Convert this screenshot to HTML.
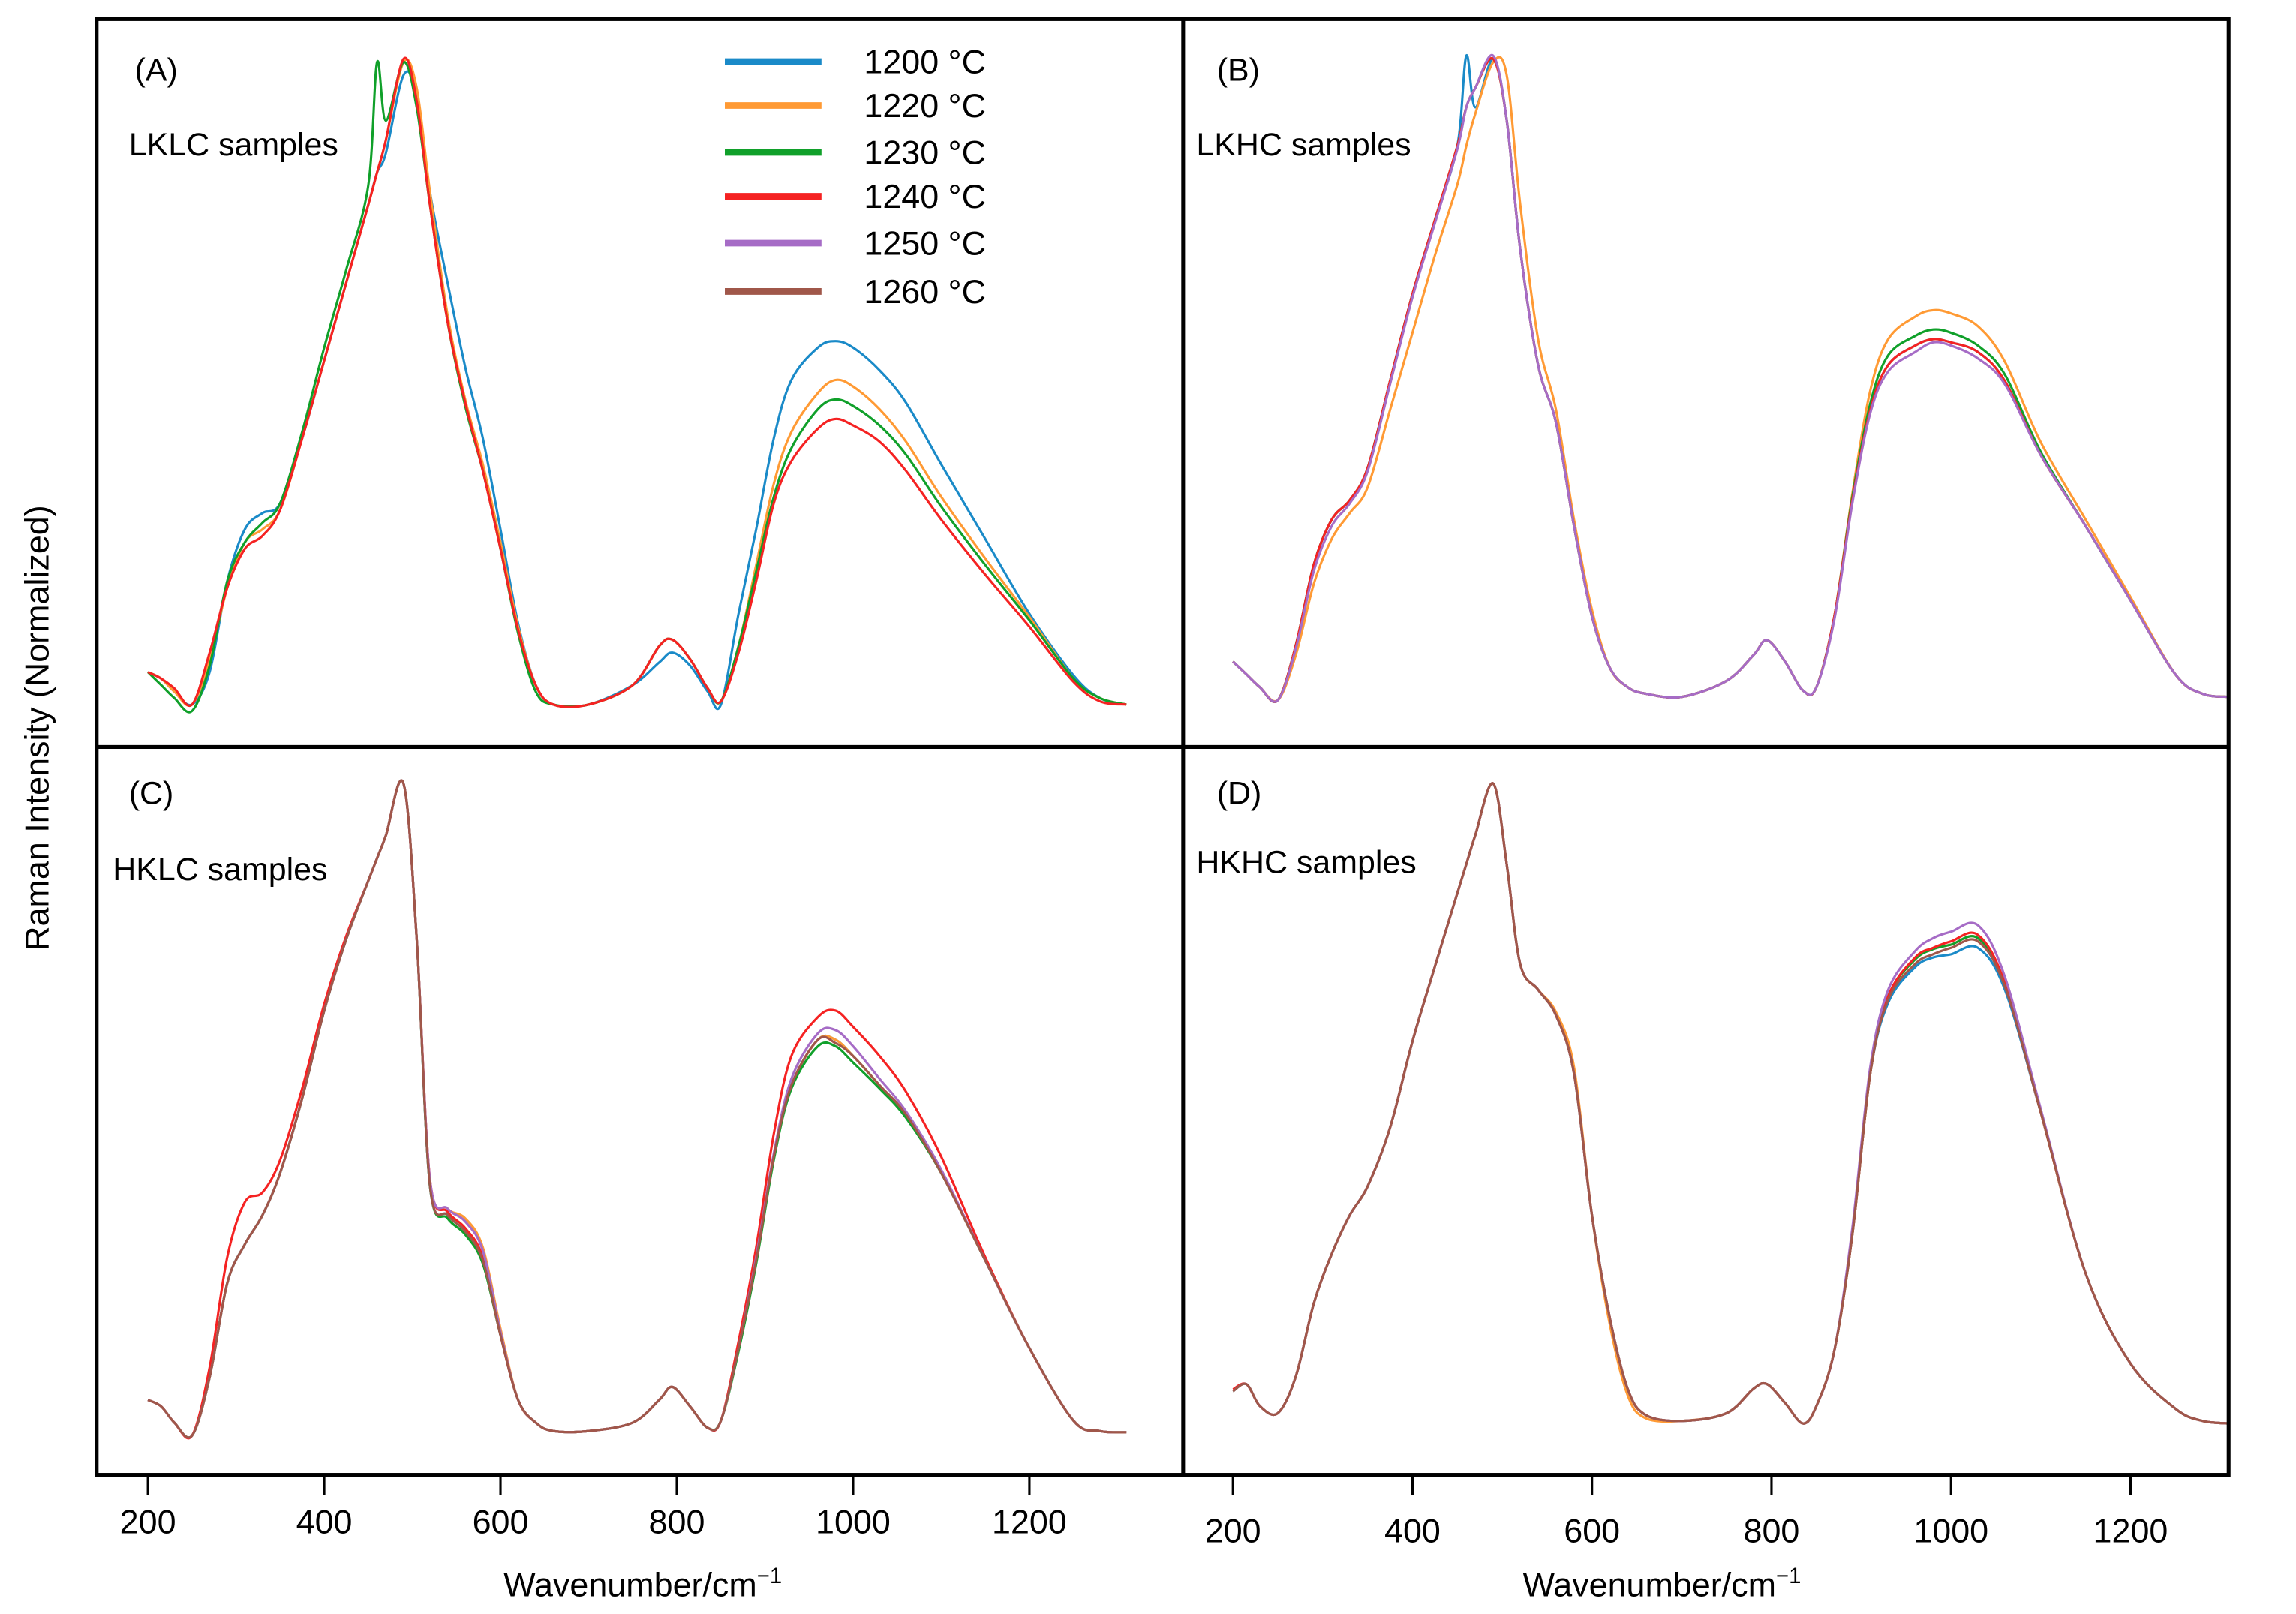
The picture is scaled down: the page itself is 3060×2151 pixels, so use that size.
<!DOCTYPE html>
<html>
<head>
<meta charset="utf-8">
<style>
html,body{margin:0;padding:0;background:#fff;}
svg{display:block;}
text{font-family:"Liberation Sans",sans-serif;fill:#000;}
</style>
</head>
<body>
<svg id="chart" width="3060" height="2151" viewBox="0 0 1568 1102" preserveAspectRatio="none" xmlns="http://www.w3.org/2000/svg">
  <rect x="0" y="0" width="1568" height="1102" fill="#fff"/>
  <g id="curves"></g>
  <g fill="none" stroke="#000" stroke-width="2.6">
    <rect x="66" y="13" width="1456" height="994"/>
    <line x1="66" y1="510" x2="1522" y2="510"/>
    <line x1="808" y1="13" x2="808" y2="1007"/>
  </g>
  <g id="ticks"></g>
  <text x="439" y="1090" font-size="23" text-anchor="middle">Wavenumber/cm<tspan dy="-9" font-size="15">−1</tspan></text>
  <text x="1135" y="1090" font-size="23" text-anchor="middle">Wavenumber/cm<tspan dy="-9" font-size="15">−1</tspan></text>
  <text transform="translate(33,497) rotate(-90)" font-size="23" text-anchor="middle">Raman Intensity (Normalized)</text>
  <text x="92" y="55" font-size="22">(A)</text>
  <text x="88" y="106" font-size="22">LKLC samples</text>
  <text x="831" y="55" font-size="22">(B)</text>
  <text x="817" y="106" font-size="22">LKHC samples</text>
  <text x="88" y="549" font-size="22">(C)</text>
  <text x="77" y="601" font-size="22">HKLC samples</text>
  <text x="831" y="549" font-size="22">(D)</text>
  <text x="817" y="596" font-size="22">HKHC samples</text>
  <g id="legend"></g>
</svg>
<script>
// ---- data ----
const wavenumbers = [200,215,230,250,270,290,310,330,350,375,400,425,450,460,470,490,505,520,540,560,580,600,620,640,660,700,750,780,795,815,835,850,870,890,910,930,960,980,1000,1030,1060,1100,1150,1200,1250,1280,1310];
const xTicks = [200,400,600,800,1000,1200];
const seriesLabels = ["1200 °C","1220 °C","1230 °C","1240 °C","1250 °C","1260 °C"];
const seriesColors = ["#1a8ac8","#ff9a34","#10a02a","#f52222","#a66cc6","#a0574a"];

// Panel A (LKLC)
const a1200 = [5,4,2,0,5,19,27,29.5,31,41,53,65,77,82,85,97,94,79,65,52,41,27,12.5,3,0,0,3,6.5,8,6,2,0,14,27,41,50,55,56,55,51.5,46.5,37,25.5,14,4.5,1,0];
const a1220 = [5,4,2,0,7,18,25,27,30,41,53,65,77,82,87,99,95,79,60,47,37,25,12,3,0,0,3,9,10,7,2.5,0.5,9,21.5,34,42,48,50,49,45.5,40.5,32,22.5,13.5,4,1,0];
const a1230 = [5,3,1,-1,6,19,25,28,31,42,55,67,80,99,90,99,92,77,59,46,36,24,11,2,0,0,3,9,10,7,2.5,0.5,9,20.5,32,39.5,45.5,47,46,43,38.5,30.5,21.5,13,4,1,0];
const a1240 = [5,4,2.5,0,8,18,24,26,30,41,53,65,77,82,87,99.5,93,77,59,46.5,36,24,11.5,3,0,0,3,9,10,7,2.5,0.5,8,19,31,37.5,42.5,44,43,40.5,36,28.5,20,12,3.5,0.5,0];

// Panel B (LKHC)
const b1200 = [6,4,2,0,8.5,21,28,31,36,49.5,63,74.5,86,100,92,99.5,90,70,52,43,27,13,5,2,1,0.5,3,7,9.3,6,1.5,2,13,31,45,52,55,56,55.5,54,49.5,38,27,15.5,4,1,0.5];
const b1220 = [6,4,2,0,7,18,25,29,33,45,57,69,80,86,91,99,97,77,56,45,28,14,5,2,1,0.5,3,7,9.3,6,1.5,2,13,32,48,56,59.5,60.5,60,58,52.5,40,28,16,4,1,0.5];
const b1230 = [6,4,2,0,8.5,21,28,31,36,49.5,63,74.5,86,92,95,99.5,90,70,52,43,27,13,5,2,1,0.5,3,7,9.3,6,1.5,2,13,31.5,46,53.5,56.5,57.5,57,55,50.5,38.5,27,15.5,4,1,0.5];
const b1240 = [6,4,2,0,8.5,21,28,31,36,49.5,63,74.5,86,92,95,99.5,90,70,52,43,27,13,5,2,1,0.5,3,7,9.3,6,1.5,2,13,31,45,52,55,56,55.5,54,49.5,38,27,15.5,4,1,0.5];
const b1250 = [6,4,2,0,8,20,27,30.5,35.5,49,62.5,74,85.5,92,95,100,90,70,52,43,27,13,5,2,1,0.5,3,7,9.3,6,1.5,2,12.5,30.5,44.5,51,54,55.5,55,53,49,38,27,15.5,4,1,0.5];

// Panel C (HKLC)
const c1200 = [5,4,1.5,-0.5,8.5,23,29,33.5,40,51.5,65,76,85,88.5,92,100,76,38,33.5,31,26.5,15,5,1.5,0.2,0.2,1.5,5,7,4,0.7,1.8,13,26.5,42.5,53.5,60.5,60.5,58,53.5,49,40,26.5,13,1.8,0.2,0];
const c1220 = [5,4,1.5,-0.5,8.5,23,29,33.5,40,51.5,65,76,85,88.5,92,100,76,39,34.5,33,28.5,16,5,1.5,0.2,0.2,1.5,5,7,4,0.7,1.8,13,26.5,42.5,53.5,60.5,60.5,58,53.5,49,40,26.5,13,1.8,0.2,0];
const c1230 = [5,4,1.5,-0.5,8.5,23,29,33.5,40,51.5,65,76,85,88.5,92,100,76,38,33,30.5,26,15,5,1.5,0.2,0.2,1.5,5,7,4,0.7,1.8,12.5,26,42,53,59.5,59.5,57,53,48.5,40,26.5,13,1.8,0.2,0];
const c1240 = [5,4,1.5,-0.5,10,27,35.5,37,42,53,66,76.5,85,88.5,92,100,76,39,34,31.5,27,15,5,1.5,0.2,0.2,1.5,5,7,4,0.7,1.8,14,28.5,46,58,64,65,62.5,58,52.5,42.5,27,13,1.8,0.2,0];
const c1250 = [5,4,1.5,-0.5,8.5,23,29,33.5,40,51.5,65,76,85,88.5,92,100,76,39,34.5,32.5,28,15.5,5,1.5,0.2,0.2,1.5,5,7,4,0.7,1.8,13,27,43,54.5,61.5,62,59.5,54.5,49.5,40.5,26.5,13,1.8,0.2,0];
const c1260 = [5,4,1.5,-0.5,8.5,23,29,33.5,40,51.5,65,76,85,88.5,92,100,76,38,33.5,31,26.5,15,5,1.5,0.2,0.2,1.5,5,7,4,0.7,1.8,13,26.5,42.5,53.5,60.5,60,58,53.5,49,40,26.5,13,1.8,0.2,0];

// Panel D (HKHC)
const d1200 = [5.7,6.8,3.4,2.3,8,19.3,27,33,37.5,46.6,60,71.6,83,87.5,92,100,87.5,72,68,64,55,33,17,6,2,1.1,2.3,6.1,6.8,3.9,0.7,3.4,12,30,55,66,71.5,73,73.5,74.5,68,49,24,10,3,1.1,0.7];
const d1220 = [5.7,6.8,3.4,2.3,8,19.3,27,33,37.5,46.6,60,71.6,83,87.5,92,100,87.5,72,68,64.5,56,33,16,5,1.5,1.1,2.3,6.1,6.8,3.9,0.7,3.4,12,30,55,67,72.7,74.3,75,76,69,49,24,10,3,1.1,0.7];
const d1230 = [5.7,6.8,3.4,2.3,8,19.3,27,33,37.5,46.6,60,71.6,83,87.5,92,100,87.5,72,68,64,55,33,17,6,2,1.1,2.3,6.1,6.8,3.9,0.7,3.4,12,30,55,67,72.7,74.3,75,76,69,49,24,10,3,1.1,0.7];
const d1240 = [6,6.8,3.4,2.3,8,19.3,27,33,37.5,46.6,60,71.6,83,87.5,92,100,87.5,72,68,64,55,33,17,6,2,1.1,2.3,6.1,6.8,3.9,0.7,3.4,12,30,55,67,73,74.5,75.5,76.5,69,49,24,10,3,1.1,0.7];
const d1250 = [5.7,6.8,3.4,2.3,8,19.3,27,33,37.5,46.6,60,71.6,83,87.5,92,100,87.5,72,68,64,55,33,17,6,2,1.1,2.3,6.1,6.8,3.9,0.7,3.4,12,31,56,68,74,76,77,78,70,49.5,24,10,3,1.1,0.7];
const d1260 = [5.7,6.8,3.4,2.3,8,19.3,27,33,37.5,46.6,60,71.6,83,87.5,92,100,87.5,72,68,64,55,33,17,6,2,1.1,2.3,6.1,6.8,3.9,0.7,3.4,12,30,55,66.5,72,73.5,74.5,75.5,68.5,49,24,10,3,1.1,0.7];

// ---- axes ----
const NS = "http://www.w3.org/2000/svg";
const panels = [
  {name:"a", x0:101, k:0.602, yBase:481, yTop:38, series:[a1200,a1220,a1230,a1240,null,null]},
  {name:"b", x0:842, k:0.613, yBase:478, yTop:38, series:[b1200,b1220,b1230,b1240,b1250,null]},
  {name:"c", x0:101, k:0.602, yBase:978, yTop:535, series:[c1200,c1220,c1230,c1240,c1250,c1260]},
  {name:"d", x0:842, k:0.613, yBase:975, yTop:535, series:[d1200,d1220,d1230,d1240,d1250,d1260]}
];
function xScale(p, w){ return p.x0 + (w - 200) * p.k; }
function yScale(p, v){ return p.yBase - v / 100 * (p.yBase - p.yTop); }

function smoothPath(pts){
  let d = "M" + pts[0][0].toFixed(2) + "," + pts[0][1].toFixed(2);
  for (let i = 0; i < pts.length - 1; i++){
    const p0 = pts[Math.max(0,i-1)], p1 = pts[i], p2 = pts[i+1], p3 = pts[Math.min(pts.length-1,i+2)];
    const c1x = p1[0] + (p2[0]-p0[0])/6, c1y = p1[1] + (p2[1]-p0[1])/6;
    const c2x = p2[0] - (p3[0]-p1[0])/6, c2y = p2[1] - (p3[1]-p1[1])/6;
    d += " C" + c1x.toFixed(2)+","+c1y.toFixed(2)+" "+c2x.toFixed(2)+","+c2y.toFixed(2)+" "+p2[0].toFixed(2)+","+p2[1].toFixed(2);
  }
  return d;
}

const curves = document.getElementById("curves");
panels.forEach(p => {
  p.series.forEach((vals, si) => {
    if (!vals) return;
    const pts = wavenumbers.map((w, i) => [xScale(p, w), yScale(p, vals[i])]);
    const path = document.createElementNS(NS, "path");
    path.setAttribute("d", smoothPath(pts));
    path.setAttribute("fill", "none");
    path.setAttribute("stroke", seriesColors[si]);
    path.setAttribute("stroke-width", "1.6");
    path.setAttribute("stroke-linejoin", "round");
    
    
    curves.appendChild(path);
  });
});

// ticks (bottom panels)
const ticks = document.getElementById("ticks");
[panels[2], panels[3]].forEach((p, pi) => {
  xTicks.forEach(t => {
    const x = xScale(p, t);
    const ln = document.createElementNS(NS, "line");
    ln.setAttribute("x1", x); ln.setAttribute("x2", x);
    ln.setAttribute("y1", 1007); ln.setAttribute("y2", 1021);
    ln.setAttribute("stroke", "#000"); ln.setAttribute("stroke-width", "1.6");
    
    
    ticks.appendChild(ln);
    const tx = document.createElementNS(NS, "text");
    tx.setAttribute("x", x);
    tx.setAttribute("y", pi === 0 ? 1047 : 1053);
    tx.setAttribute("font-size", "23");
    tx.setAttribute("text-anchor", "middle");
    tx.textContent = String(t);
    
    
    ticks.appendChild(tx);
  });
});

// legend
const legend = document.getElementById("legend");
const legendRows = [42, 72, 104, 134, 166, 199];
seriesLabels.forEach((lab, i) => {
  const ln = document.createElementNS(NS, "line");
  ln.setAttribute("x1", 495); ln.setAttribute("x2", 561);
  ln.setAttribute("y1", legendRows[i]); ln.setAttribute("y2", legendRows[i]);
  ln.setAttribute("stroke", seriesColors[i]); ln.setAttribute("stroke-width", "4.5");
  
  
  legend.appendChild(ln);
  const tx = document.createElementNS(NS, "text");
  tx.setAttribute("x", 590); tx.setAttribute("y", legendRows[i] + 8);
  tx.setAttribute("font-size", "23");
  tx.textContent = lab;
  
  
  legend.appendChild(tx);
});
</script>
</body>
</html>
